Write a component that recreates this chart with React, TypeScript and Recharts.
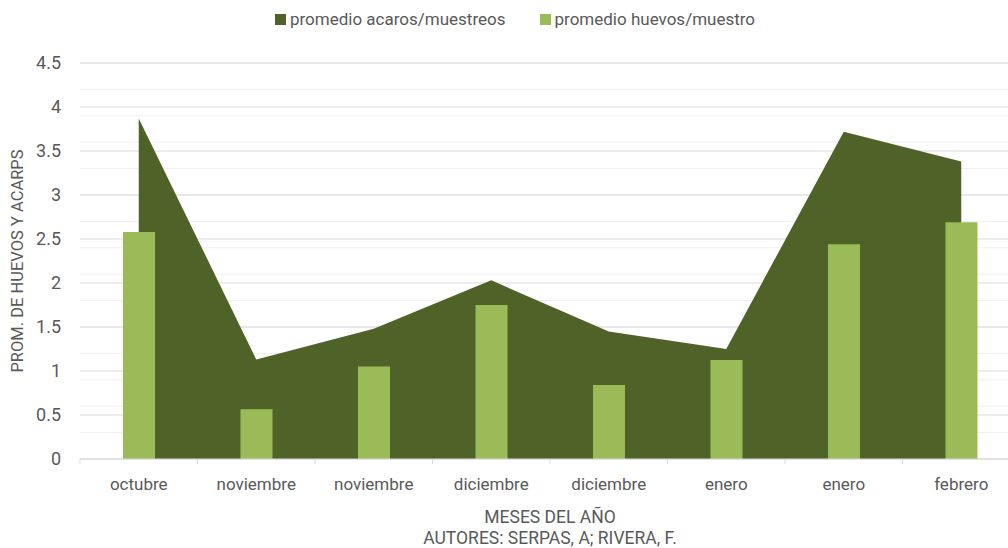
import React from 'react';
import { ComposedChart, Area, Bar, XAxis, YAxis, CartesianGrid, Legend } from 'recharts';

const months = ['octubre', 'noviembre', 'noviembre', 'diciembre', 'diciembre', 'enero', 'enero', 'febrero'];
const acaros = [3.87, 1.13, 1.48, 2.03, 1.45, 1.25, 3.72, 3.38];
const huevos = [2.58, 0.565, 1.05, 1.75, 0.84, 1.125, 2.44, 2.69];
const yTicks = [0, 0.5, 1, 1.5, 2, 2.5, 3, 3.5, 4, 4.5];
const minorTicks = Array.from({ length: 46 }, (_, i) => i / 10);

const seriesNames = ['promedio acaros/muestreos', 'promedio huevos/muestro'];
const xTitle = 'MESES DEL AÑO';
const xSubtitle = 'AUTORES: SERPAS, A; RIVERA, F.';
const yTitle = 'PROM. DE HUEVOS Y ACARPS';

const data = months.map((m, i) => ({ mes: m, acaros: acaros[i], huevos: huevos[i] }));

const FONT = "Roboto, 'Liberation Sans', Arial, sans-serif";
const TEXT = '#595959';
const DARK = '#4F6228';
const LIGHT = '#9BBB59';
const AXIS = '#d9d9d9';

const XTick = (props: any) => {
  const { x, y, payload } = props;
  const off = payload && typeof payload.offset === 'number' ? payload.offset : 0;
  return (
    <g>
      <line x1={x - off} x2={x - off} y1={y} y2={y + 5} stroke={AXIS} strokeWidth={1} />
      <text x={x} y={y + 31} textAnchor="middle" fill={TEXT} fontSize={17} fontFamily={FONT}>
        {payload.value}
      </text>
    </g>
  );
};

const XTitle = (props: any) => {
  const vb = props.viewBox || {};
  const cx = vb.x + vb.width / 2;
  return (
    <g>
      <text x={cx} y={vb.y + 64} textAnchor="middle" fill={TEXT} fontSize={17.5} fontFamily={FONT}>{xTitle}</text>
      <text x={cx} y={vb.y + 85} textAnchor="middle" fill={TEXT} fontSize={17.5} fontFamily={FONT}>{xSubtitle}</text>
    </g>
  );
};

const YTitle = (props: any) => {
  const vb = props.viewBox || {};
  const cx = vb.x + 23;
  const cy = vb.y + vb.height / 2;
  return (
    <text x={cx} y={cy} textAnchor="middle" fill={TEXT} fontSize={16.5} fontFamily={FONT}
      transform={`rotate(-90, ${cx}, ${cy})`}>{yTitle}</text>
  );
};

const LegendContent = (props: any) => {
  const items = props.payload || [];
  return (
    <div style={{ height: 63, display: 'flex', justifyContent: 'center', alignItems: 'flex-start', paddingTop: 8, paddingLeft: 10, boxSizing: 'border-box', fontFamily: FONT, fontSize: 17, color: TEXT }}>
      {items.map((it: any, i: number) => (
        <div key={i} style={{ display: 'flex', alignItems: 'center', marginLeft: i === 0 ? 0 : 34, lineHeight: '22px' }}>
          <span style={{ display: 'inline-block', width: 11, height: 11, background: it.color, marginRight: 4 }} />
          <span>{it.value}</span>
        </div>
      ))}
    </div>
  );
};

export default function App() {
  return (
    <div style={{ position: 'absolute', left: 0, top: 0, width: 1008, height: 548, overflow: 'hidden', background: '#fff' }}>
      <ComposedChart width={1020} height={548} data={data} margin={{ top: 0, right: 0, bottom: 0, left: 0 }}>
        <Legend verticalAlign="top" align="center" content={<LegendContent />} />
        <CartesianGrid vertical={false} horizontalValues={minorTicks} stroke="#efefef" strokeWidth={1} />
        <CartesianGrid vertical={false} horizontalValues={yTicks} stroke={AXIS} strokeWidth={1} />
        <XAxis dataKey="mes" height={89} tick={<XTick />} tickLine={false} tickSize={0} tickMargin={0}
          axisLine={{ stroke: AXIS, strokeWidth: 1 }} interval={0} label={<XTitle />} />
        <YAxis width={80} domain={[0, 4.5]} ticks={yTicks} axisLine={false} tickLine={false} tickSize={0} tickMargin={19}
          tick={{ fill: TEXT, fontSize: 18, fontFamily: FONT }} label={<YTitle />} />
        <Area type="linear" dataKey="acaros" name={seriesNames[0]} fill={DARK} stroke={DARK} strokeWidth={0}
          fillOpacity={1} legendType="square" isAnimationActive={false} dot={false} activeDot={false} />
        <Bar dataKey="huevos" name={seriesNames[1]} fill={LIGHT} barSize={32} legendType="square" isAnimationActive={false} />
      </ComposedChart>
    </div>
  );
}
